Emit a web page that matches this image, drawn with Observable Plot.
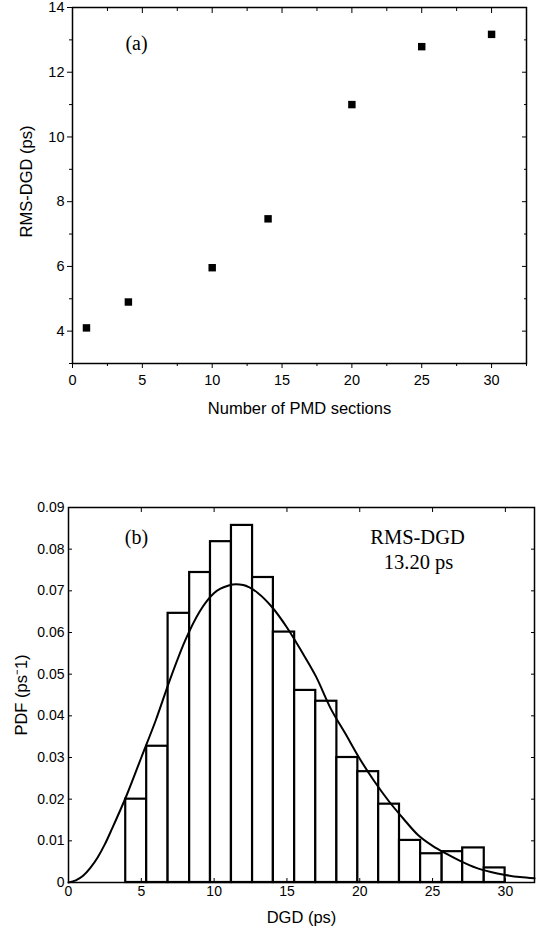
<!DOCTYPE html>
<html>
<head>
<meta charset="utf-8">
<script src="https://cdn.jsdelivr.net/npm/d3@7"></script>
<script src="https://cdn.jsdelivr.net/npm/@observablehq/plot@0.6"></script>
<style>
  html, body { margin: 0; padding: 0; background: #fff; }
  #chart { width: 543px; }
  #chart svg { display: block; }
</style>
</head>
<body>
<div id="chart"></div>
<script>
// ---------- Panel (a) data ----------
const pmdSections = [1, 4, 10, 14, 20, 25, 30];
const rmsDgdValues = [4.10, 4.90, 5.96, 7.47, 11.0, 12.79, 13.17];
const xTicksA = [0, 5, 10, 15, 20, 25, 30];
const xMinorTicksA = [2.5, 7.5, 12.5, 17.5, 22.5, 27.5, 32.5];
const yTicksA = [4, 6, 8, 10, 12, 14];
const yMinorTicksA = [3, 5, 7, 9, 11, 13];

// ---------- Panel (b) data ----------
const binEdges = [3.93, 5.37, 6.84, 8.32, 9.75, 11.19, 12.64, 14.07, 15.53, 16.98,
                  18.43, 19.87, 21.30, 22.73, 24.18, 25.66, 27.07, 28.55, 29.98];
const pdfValues = [0.0200, 0.0327, 0.0646, 0.0744, 0.0818, 0.0857, 0.0732, 0.0601, 0.0461,
                   0.0435, 0.0300, 0.0266, 0.0188, 0.0101, 0.0069, 0.0074, 0.0083, 0.0035];
const curveDgd = [0, 0.5, 1, 1.5, 2, 2.5, 3, 4, 5, 6, 7, 8, 9, 10, 11, 11.5, 12, 13, 14, 15, 16,
                  17, 18, 19, 20, 21, 22, 23, 24, 25, 26, 27, 28, 29, 30, 31, 32];
const curvePdf = [0, 0.0005, 0.0016, 0.0035, 0.0060, 0.0092, 0.0130, 0.0210, 0.0300, 0.0390,
                  0.0490, 0.0580, 0.0650, 0.0695, 0.0713, 0.0716, 0.0714, 0.0695, 0.0660,
                  0.0612, 0.0555, 0.0494, 0.0418, 0.0358, 0.0297, 0.0243, 0.0195, 0.0153,
                  0.0114, 0.0088, 0.0068, 0.0050, 0.0035, 0.0025, 0.0018, 0.0013, 0.0010];
const xTicksB = [0, 5, 10, 15, 20, 25, 30];
const yTicksB = [0, 0.01, 0.02, 0.03, 0.04, 0.05, 0.06, 0.07, 0.08, 0.09];

const sans = "'Liberation Sans', Arial, sans-serif";
const serif = "'Liberation Serif', 'Times New Roman', serif";
const noText = () => "";

// ---------- Panel (a) ----------
const tableA = pmdSections.map((s, i) => ({s, v: rmsDgdValues[i]}));
const plotA = Plot.plot({
  width: 543,
  height: 440,
  marginLeft: 72,
  marginRight: 17,
  marginTop: 7,
  marginBottom: 77,
  style: {fontFamily: sans, fontSize: "14.5px", color: "#000", background: "#fff"},
  x: {domain: [0, 32.5]},
  y: {domain: [3, 14]},
  marks: [
    // bottom: outward ticks with labels
    Plot.axisX(xTicksA, {anchor: "bottom", tickSize: 5, tickPadding: 6, label: null, fontSize: 14.5}),
    Plot.axisX(xMinorTicksA, {anchor: "bottom", tickSize: 3, tickFormat: noText, label: null}),
    // top: inward ticks
    Plot.axisX(xTicksA, {anchor: "top", tickSize: -5, tickFormat: noText, label: null}),
    Plot.axisX(xMinorTicksA, {anchor: "top", tickSize: -3, tickFormat: noText, label: null}),
    // left: outward ticks with labels
    Plot.axisY(yTicksA, {anchor: "left", tickSize: 5, tickPadding: 3, label: null, fontSize: 14.5}),
    Plot.axisY(yMinorTicksA, {anchor: "left", tickSize: 3, tickFormat: noText, label: null}),
    // right: inward ticks
    Plot.axisY(yTicksA, {anchor: "right", tickSize: -5, tickFormat: noText, label: null}),
    Plot.axisY(yMinorTicksA, {anchor: "right", tickSize: -3, tickFormat: noText, label: null}),
    Plot.dot(tableA, {x: "s", y: "v", symbol: "square", r: 4.2, fill: "#000", stroke: null}),
    Plot.text(["(a)"], {frameAnchor: "top-left", dx: 64, dy: 36, textAnchor: "middle", lineAnchor: "middle",
      fontFamily: serif, fontSize: 20, fill: "#000"}),
    Plot.text(["Number of PMD sections"], {frameAnchor: "bottom", dy: 45, lineAnchor: "middle",
      fontSize: 16.5, fill: "#000"}),
    Plot.text(["RMS-DGD (ps)"], {frameAnchor: "left", dx: -46, dy: -4, rotate: -90, lineAnchor: "middle",
      textAnchor: "middle", fontSize: 16.5, fill: "#000"}),
    Plot.frame({stroke: "#000", strokeWidth: 1.5})
  ]
});

// ---------- Panel (b) ----------
const bins = pdfValues.map((p, i) => ({x1: binEdges[i], x2: binEdges[i + 1], p}));
const curve = curveDgd.map((d, i) => ({d, p: curvePdf[i]}));
const fmtB = d => d === 0 ? "0" : d3.format(".2f")(d);
const plotB = Plot.plot({
  width: 543,
  height: 489,
  marginLeft: 68,
  marginRight: 9,
  marginTop: 67,
  marginBottom: 47,
  style: {fontFamily: sans, fontSize: "14px", color: "#000", background: "#fff"},
  x: {domain: [0, 32]},
  y: {domain: [0, 0.09]},
  marks: [
    Plot.rectY(bins, {x1: "x1", x2: "x2", y: "p", fill: "#fff", stroke: "#000", strokeWidth: 2.2, inset: 0}),
    Plot.line(curve, {x: "d", y: "p", stroke: "#000", strokeWidth: 2, curve: "monotone-x"}),
    // labels (no tick lines)
    Plot.axisX(xTicksB, {anchor: "bottom", tickSize: 0, tickPadding: 4, label: null, fontSize: 14}),
    Plot.axisY(yTicksB, {anchor: "left", tickSize: 0, tickPadding: 4, tickFormat: fmtB, label: null, fontSize: 14}),
    // inward ticks on all four sides
    Plot.axisX(xTicksB, {anchor: "bottom", tickSize: -4, tickFormat: noText, label: null}),
    Plot.axisX(xTicksB, {anchor: "top", tickSize: -4, tickFormat: noText, label: null}),
    Plot.axisY(yTicksB, {anchor: "left", tickSize: -4, tickFormat: noText, label: null}),
    Plot.axisY(yTicksB, {anchor: "right", tickSize: -4, tickFormat: noText, label: null}),
    Plot.text(["(b)"], {frameAnchor: "top-left", dx: 68, dy: 30, textAnchor: "middle", lineAnchor: "middle",
      fontFamily: serif, fontSize: 20, fill: "#000"}),
    Plot.text(["RMS-DGD"], {frameAnchor: "top-left", dx: 349, dy: 30, textAnchor: "middle", lineAnchor: "middle",
      fontFamily: serif, fontSize: 20.5, fill: "#000"}),
    Plot.text(["13.20 ps"], {frameAnchor: "top-left", dx: 350, dy: 55, textAnchor: "middle", lineAnchor: "middle",
      fontFamily: serif, fontSize: 20.5, fill: "#000"}),
    Plot.text(["DGD (ps)"], {frameAnchor: "bottom", dy: 35, lineAnchor: "middle", fontSize: 16.5, fill: "#000"}),
    Plot.text(["PDF (ps\u207B1)"], {frameAnchor: "left", dx: -47, rotate: -90, lineAnchor: "middle",
      textAnchor: "middle", fontSize: 16.5, fill: "#000"}),
    Plot.frame({stroke: "#000", strokeWidth: 1.5})
  ]
});

const root = document.getElementById("chart");
root.appendChild(plotA);
root.appendChild(plotB);
</script>
</body>
</html>
